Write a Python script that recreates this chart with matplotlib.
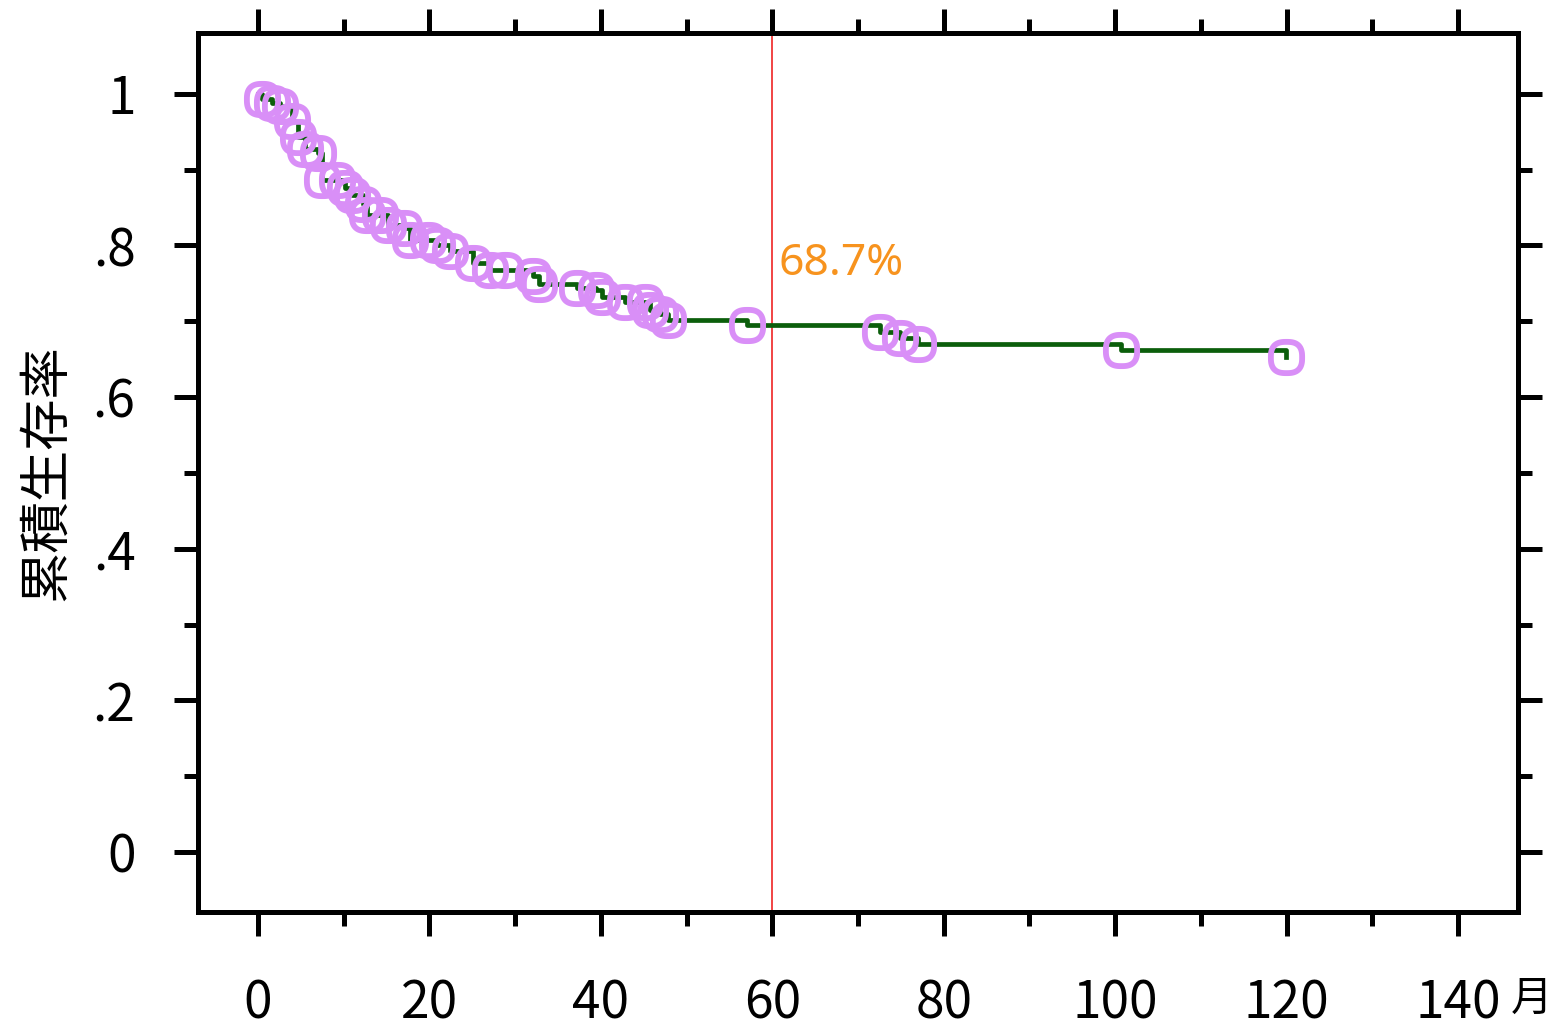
import numpy as np
import matplotlib.pyplot as plt
from matplotlib.path import Path
from matplotlib.ticker import MultipleLocator, FixedLocator

# tiempos (meses) y supervivencia acumulada en los puntos censurados
cens_t = [0.5, 1.6, 2.6, 4.0, 4.7, 5.5, 7.0, 7.5, 9.2, 10.2, 11.0, 12.3, 12.7,
          14.2, 15.2, 17.0, 17.7, 19.8, 20.9, 22.4, 25.1, 27.1, 28.8, 32.1,
          32.8, 37.2, 39.4, 40.1, 42.8, 45.2, 45.7, 46.9, 47.8, 57.1, 72.6,
          74.9, 77.0, 100.7, 119.9]
cens_s = [0.993, 0.988, 0.984, 0.964, 0.943, 0.927, 0.922, 0.886, 0.886, 0.876,
          0.867, 0.855, 0.840, 0.840, 0.827, 0.823, 0.807, 0.807, 0.801, 0.792,
          0.777, 0.768, 0.768, 0.760, 0.749, 0.744, 0.741, 0.732, 0.726, 0.726,
          0.715, 0.710, 0.702, 0.695, 0.686, 0.678, 0.670, 0.662, 0.653]

# curva escalonada
km_t = [0] + cens_t
km_s = [1.0] + cens_s

corte = 60
texto_corte = "68.7%"
xticks = [0, 20, 40, 60, 80, 100, 120, 140]
yticks = [0, 0.2, 0.4, 0.6, 0.8, 1.0]
ylabels = ["0", ".2", ".4", ".6", ".8", "1"]

plt.rcParams['font.family'] = ['Noto Sans CJK JP', 'DejaVu Sans']

# marcador cuadrado redondeado
th = np.linspace(0, 2 * np.pi, 100)
p = 0.75
mx = np.sign(np.cos(th)) * np.abs(np.cos(th)) ** p
my = np.sign(np.sin(th)) * np.abs(np.sin(th)) ** p
marca = Path(np.column_stack([mx, my]), closed=True)

fig = plt.figure(figsize=(15.53, 10.36), dpi=100)
ax = fig.add_axes([0.1275, 0.1197, 0.85, 0.8484])

ax.plot(km_t, km_s, drawstyle='steps-post', color='#0b5e0b', lw=3.4, zorder=2)
ax.plot(cens_t, cens_s, linestyle='none', marker=marca, ms=22.5, mfc='none',
        mec='#d98ff7', mew=4.2, zorder=3)
ax.axvline(corte, color='#ee1111', lw=1.1, zorder=1)
ax.text(corte + 0.7, 0.775, texto_corte, color='#f7931e', fontsize=32,
        family='Noto Sans', va='center', ha='left')

ax.set_xlim(-7, 147)
ax.set_ylim(-0.079, 1.080)
ax.xaxis.set_major_locator(FixedLocator(xticks))
ax.xaxis.set_minor_locator(MultipleLocator(10))
ax.set_xticklabels([str(v) for v in xticks])
ax.yaxis.set_major_locator(FixedLocator(yticks))
ax.yaxis.set_minor_locator(MultipleLocator(0.1))
ax.set_yticklabels(ylabels)

ax.tick_params(which='both', direction='out', width=3.6, top=True, right=True,
               labelsize=37)
ax.tick_params(which='major', length=17)
ax.tick_params(which='minor', length=10)
ax.tick_params(axis='x', pad=30)
ax.tick_params(axis='y', pad=28)
for s in ax.spines.values():
    s.set_linewidth(3.6)

ax.set_ylabel('累積生存率', fontsize=37, family='Noto Sans CJK JP', labelpad=14)
fig.text(0.986, 0.035, '月', fontsize=30, family='Noto Sans CJK JP',
         ha='center', va='center')

plt.savefig('out.png', dpi=100)
